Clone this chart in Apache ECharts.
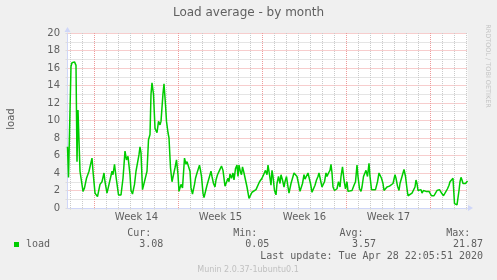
<!DOCTYPE html>
<html><head><meta charset="utf-8">
<script src="https://cdn.jsdelivr.net/npm/echarts@6/dist/echarts.min.js"></script>
<style>html,body{margin:0;padding:0;background:#f0f0f0}#c{width:497px;height:280px}</style>
</head><body><div id="c"></div>
<script>
// time in hours since the left edge of the graph (2 hours per pixel column)
const hours = [
  0,2,7,9,12,14,17,19,21,25,
  27,31,34,38,43,49,51,55,60,65,
  69,73,75,79,83,89,91,94,97,102,
  107,111,115,118,121,125,127,130,134,137,
  141,143,145,147,150,154,159,162,165,167,
  169,172,175,179,182,185,187,191,193,196,
  198,201,203,206,209,212,215,218,221,223,
  227,230,234,237,239,242,245,247,250,254,
  256,259,261,264,266,268,271,273,276,279,
  283,287,289,292,295,297,300,304,308,311,
  315,318,321,323,325,328,331,333,336,339,
  341,343,346,348,350,353,356,359,363,366,
  369,373,377,381,384,387,389,393,396,399,
  401,404,407,409,411,414,417,419,422,425,
  427,430,433,435,438,441,443,447,450,453,
  456,459,462,465,467,470,473,475,478,481,
  483,486,489,493,495,498,501,503,506,509,
  511,514,517,519,522,525,527,529,531,534,
  537,539,542,545,547,550,553,556,559,561,
  565,569,573,576,579,581,584,587,589,592,
  595,597,600,603,605,608,612,616,620,623,
  625,628,631,633,636,639,641,644,648,651,
  655,657,660,663,665,668,671,673,676,679,
  681,685,689,692,695,697,699,701,704,707,
  709,712,715,717,720,723,725,728,731,733,
  736,739,741,744,747,749,752,755,757,760,
  763,765,768,771,772,774,776,779,781,783,
  785,787,789,791,793,796,798,800
];
const load = [
  7.0,3.5,16.2,16.6,16.4,16.7,16.3,5.3,11.2,4.2,
  4.4,1.9,2.3,3.4,4.2,5.7,4.2,1.7,1.3,2.7,
  3.0,4.0,3.0,1.7,1.9,4.2,3.8,5.0,3.6,1.5,
  1.5,3.4,6.5,5.5,5.9,3.8,2.0,1.6,2.7,4.2,
  4.4,6.1,7.0,6.3,2.1,2.2,4.2,7.8,8.4,13.0,
  14.3,13.0,9.1,8.6,9.9,9.5,9.9,13.1,14.2,11.8,
  9.9,8.6,8.0,4.6,3.0,3.2,4.6,5.5,3.8,1.9,
  2.7,2.3,5.7,5.0,5.3,5.5,4.2,2.3,1.6,2.7,
  3.4,4.0,3.8,4.9,4.3,3.6,1.7,1.2,1.3,2.6,
  3.4,4.2,3.6,2.8,2.4,3.2,3.8,4.3,4.8,4.3,
  2.5,2.4,3.4,3.0,3.9,3.4,4.0,3.2,4.5,4.9,
  3.6,4.9,4.1,3.8,4.7,4.0,3.2,2.4,1.1,1.3,
  1.8,1.7,2.1,2.0,3.0,2.8,3.4,3.2,4.3,3.8,
  4.9,3.8,2.6,4.3,3.6,2.0,1.5,2.8,3.6,2.8,
  3.8,3.2,2.4,3.0,3.6,2.4,1.7,2.8,3.4,4.0,
  4.2,3.6,2.8,1.9,1.7,2.8,3.8,3.3,3.4,4.0,
  4.2,2.8,1.8,1.7,2.6,3.2,3.6,4.0,3.8,2.4,
  2.4,3.0,4.0,3.6,4.0,4.3,5.0,4.0,2.4,2.0,
  2.0,2.2,3.0,2.4,3.6,4.7,3.2,2.2,3.0,1.9,
  2.0,2.0,2.6,3.0,4.9,3.6,2.2,1.9,2.4,3.6,
  3.4,4.3,3.6,5.1,3.6,2.1,2.2,2.1,3.0,4.0,
  3.8,3.4,2.8,2.0,1.9,2.4,2.2,2.5,2.4,2.8,
  3.8,3.4,2.5,2.0,2.8,3.4,3.4,4.4,3.6,2.2,
  1.4,1.4,1.7,1.9,2.4,3.2,2.8,2.0,1.9,2.1,
  1.7,2.0,2.2,1.9,2.1,1.9,1.7,1.4,1.4,1.4,
  1.7,2.0,2.2,2.1,1.8,1.6,1.4,1.4,1.9,2.2,
  2.6,3.0,2.8,3.4,2.4,0.5,0.3,0.35,0.5,2.0,
  3.0,3.5,3.2,2.8,3.0,2.8,3.0,3.08
];
const weekStartHours = [54, 222, 390, 558, 726];
const weekLabels = ['Week 14', 'Week 15', 'Week 16', 'Week 17'];
const seriesName = 'load';
const statLabels = ['Cur:', 'Min:', 'Avg:', 'Max:'];
const statValues = ['3.08', '0.05', '3.57', '21.87'];
const titleText = 'Load average - by month';
const lastUpdate = 'Last update: Tue Apr 28 22:05:51 2020';
const footer = 'Munin 2.0.37-1ubuntu0.1';
const watermark = 'RRDTOOL / TOBI OETIKER';

const HOURS_PER_DAY = 24, HOURS_PER_WEEK = 168;
const X_MAX = 800, Y_MAX = 20;
const weekMidHours = weekStartHours.slice(0, weekLabels.length).map(h => h + HOURS_PER_WEEK / 2);
const dayLineHours = [];
for (let h = weekStartHours[0] % HOURS_PER_DAY; h <= X_MAX; h += HOURS_PER_DAY) {
  if (!weekStartHours.includes(h)) dayLineHours.push(h);
}

const FONT = 'DejaVu Sans', MONO = 'DejaVu Sans Mono';
const TXT = '#606060';
const AXIS = '#CFD6F8';
const MGRID = '#ee9a9a', GRID = '#cacaca';

const chart = echarts.init(document.getElementById('c'), null, {renderer: 'canvas'});

const statLabelRight = [151.3, 257.3, 363.5, 470.3];
const statValueRight = [163.3, 269.3, 376, 483];
const graphics = [
  {type: 'text', x: 248.5, y: 13, style: {text: titleText, fill: TXT, font: "12px '" + FONT + "'", textAlign: 'center', textVerticalAlign: 'middle'}},
  {type: 'text', x: 11, y: 119, rotation: Math.PI / 2, style: {text: 'load', fill: TXT, font: "10px '" + FONT + "'", textAlign: 'center', textVerticalAlign: 'middle'}},
  {type: 'text', x: 487.5, y: 66, rotation: -Math.PI / 2, style: {text: watermark, fill: '#c4c4c4', font: "6.5px '" + FONT + "'", textAlign: 'center', textVerticalAlign: 'middle'}},
  {type: 'rect', shape: {x: 14, y: 242, width: 5, height: 5}, style: {fill: '#00cc00'}},
  {type: 'text', x: 26, y: 244.8, style: {text: seriesName, fill: TXT, font: "10px '" + MONO + "'", textAlign: 'left', textVerticalAlign: 'middle'}},
  {type: 'text', x: 483, y: 256.5, style: {text: lastUpdate, fill: TXT, font: "10px '" + MONO + "'", textAlign: 'right', textVerticalAlign: 'middle'}},
  {type: 'text', x: 248, y: 269.5, style: {text: footer, fill: '#c0c0c0', font: "8px '" + FONT + "'", textAlign: 'center', textVerticalAlign: 'middle'}}
];
statLabels.forEach((s, i) => {
  graphics.push({type: 'text', x: statLabelRight[i], y: 233, style: {text: s, fill: TXT, font: "10px '" + MONO + "'", textAlign: 'right', textVerticalAlign: 'middle'}});
  graphics.push({type: 'text', x: statValueRight[i], y: 244.8, style: {text: statValues[i], fill: TXT, font: "10px '" + MONO + "'", textAlign: 'right', textVerticalAlign: 'middle'}});
});

// vertical dotted grid lines, positioned through the x axis scale
function gridLines(values, color) {
  return {
    type: 'custom', silent: true, z: 1,
    data: values.map(h => [h]),
    encode: {x: 0},
    renderItem: function (params, api) {
      const top = api.coord([api.value(0), Y_MAX]);
      const bottom = api.coord([api.value(0), 0]);
      const x = Math.round(top[0] - 0.5) + 0.5;
      return {
        type: 'line',
        shape: {x1: x, y1: top[1], x2: x, y2: bottom[1]},
        style: {stroke: color, lineWidth: 1, lineDash: [1, 1]}
      };
    }
  };
}

chart.setOption({
  animation: false,
  backgroundColor: '#f0f0f0',
  grid: {left: 67.5, top: 33, width: 400, height: 175, show: true, backgroundColor: '#ffffff', borderWidth: 0},
  xAxis: {
    type: 'value', min: 0, max: X_MAX,
    axisLine: {show: true, onZero: false, lineStyle: {color: AXIS, width: 1}, symbol: ['none', 'triangle'], symbolSize: [6, 5], symbolOffset: [0, 3]},
    axisTick: {show: true, length: 2, customValues: dayLineHours.concat(weekStartHours).sort((a, b) => a - b), lineStyle: {color: '#dddddd'}},
    axisLabel: {show: true, customValues: weekMidHours, color: TXT, fontFamily: FONT, fontSize: 10, margin: 4,
      formatter: v => { const i = weekMidHours.indexOf(v); return i >= 0 ? weekLabels[i] : ''; }},
    splitLine: {show: false}
  },
  yAxis: {
    type: 'value', min: 0, max: Y_MAX, interval: 1,
    axisLine: {show: true, lineStyle: {color: AXIS, width: 1}, symbol: ['none', 'triangle'], symbolSize: [6, 5], symbolOffset: [0, 3.5]},
    axisTick: {show: true, length: 2, lineStyle: {color: '#dddddd'}},
    axisLabel: {color: TXT, fontFamily: FONT, fontSize: 10, margin: 7.5, formatter: v => (v % 2 === 0 ? String(v) : '')},
    splitLine: {show: true, lineStyle: {color: [MGRID, GRID], type: [1, 1], width: 1}}
  },
  graphic: graphics,
  series: [
    gridLines(dayLineHours, GRID),
    gridLines(weekStartHours, MGRID),
    {
      name: seriesName, type: 'line', z: 3, showSymbol: false, symbol: 'none',
      lineStyle: {color: '#00cc00', width: 1.5},
      data: hours.map((h, i) => [h, load[i]])
    }
  ]
});
</script>
</body></html>
